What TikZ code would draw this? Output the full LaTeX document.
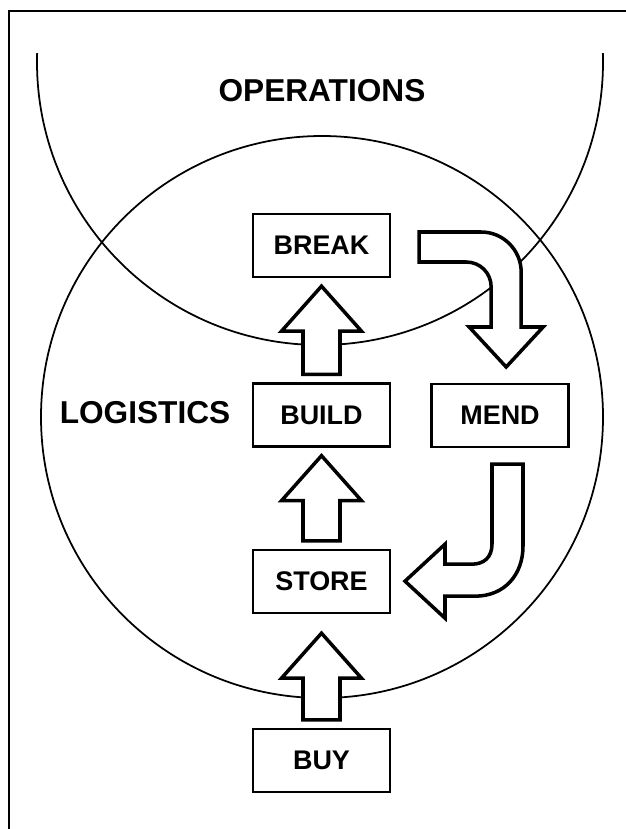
\documentclass[tikz,border=0pt]{standalone}
\usepackage{fontspec}
\setmainfont{Liberation Sans}
\usetikzlibrary{calc}

\tikzset{
	stage/.style = {draw, line width = 2pt, fill = white, inner sep = 0pt,
		minimum width = 4.11cm, minimum height = 1.89cm,
		font = \fontsize{23}{27}\selectfont\bfseries},
	area/.style = {font = \fontsize{27}{31}\selectfont\bfseries},
	blockarrow/.style = {draw, line width = 3pt, fill = white, line join = miter},
	ring/.style = {line width = 1.5pt}
}

\newcommand{\uparrowblock}[3]{%
	\draw [blockarrow] ($(#1.north)+(-18.5,-8)$) -- ($(#2.south)+(-18.5,#3+45)$)
		-- ($(#2.south)+(-40,#3+45)$) -- ($(#2.south)+(0,#3)$)
		-- ($(#2.south)+(40,#3+45)$) -- ($(#2.south)+(18.5,#3+45)$)
		-- ($(#1.north)+(18.5,-8)$) -- cycle;}

\begin{document}
\begin{tikzpicture}[x = 0.03cm, y = -0.03cm]
\useasboundingbox (0, 0) rectangle (626, 829);
\draw [line width = 2.4pt] (9, 829) -- (9, 11) -- (626, 11);

\draw [ring] (322, 417) circle (281);
\begin{scope}
	\clip (0, 53) rectangle (626, 829);
	\draw [ring] (320, 62) circle (283);
\end{scope}

\node [area] (ops) at (322, 91) {OPERATIONS};
\node [area] (log) at (145, 413) {LOGISTICS};

\node [stage] (break) at (321.5, 245.5) {BREAK};
\node [stage] (build) at (321.5, 415) {BUILD};
\node [stage] (mend) at (500, 415.5) {MEND};
\node [stage] (store) at (321.5, 581.5) {STORE};
\node [stage] (buy) at (321.5, 760.5) {BUY};

\uparrowblock{build}{break}{8}
\uparrowblock{store}{build}{8}
\uparrowblock{buy}{store}{19}

\begin{scope}[shift = {(break.east)}]
	\draw [blockarrow] (28, -13.5) -- (90, -13.5)
		.. controls (112, -13.5) and (130, 4.5) .. (130, 26.5) -- (130, 81.5)
		-- (152, 81.5) -- (115, 121.5) -- (78, 81.5) -- (100, 81.5) -- (100, 41.5)
		.. controls (100, 27.5) and (89, 16.5) .. (75, 16.5) -- (28, 16.5) -- cycle;
\end{scope}

\begin{scope}[shift = {(mend.south)}]
	\draw [blockarrow] (-8, 16) -- (23, 16) -- (23, 98)
		.. controls (23, 126) and (5, 148) .. (-25, 148) -- (-55, 148)
		-- (-55, 170) -- (-95, 133) -- (-55, 96) -- (-55, 116) -- (-28, 116)
		.. controls (-16, 116) and (-8, 109) .. (-8, 96) -- cycle;
\end{scope}

\end{tikzpicture}
\end{document}
